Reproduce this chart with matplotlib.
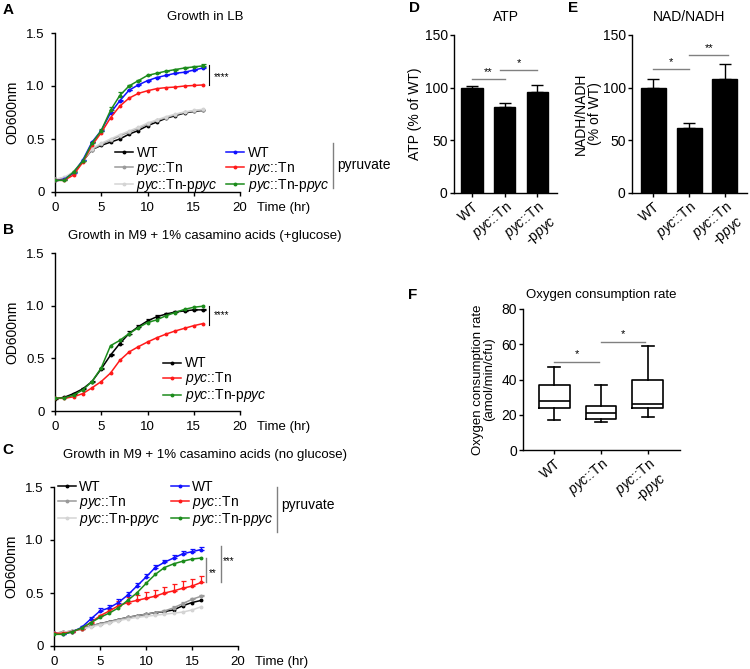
import numpy as np
import matplotlib
matplotlib.use("Agg")
import matplotlib.pyplot as plt

plt.rcParams["font.family"] = ["Liberation Sans", "DejaVu Sans"]
plt.rcParams["mathtext.fontset"] = "custom"
plt.rcParams["mathtext.rm"] = "Liberation Sans"
plt.rcParams["mathtext.it"] = "Liberation Sans:italic"
plt.rcParams["axes.linewidth"] = 1.0
plt.rcParams["xtick.major.width"] = 1.0
plt.rcParams["ytick.major.width"] = 1.0
plt.rcParams["xtick.major.size"] = 3
plt.rcParams["ytick.major.size"] = 3

BLACK = "#000000"
GRAY = "#9a9a9a"
LGRAY = "#d4d4d4"
BLUE = "#1010ff"
RED = "#ff1a1a"
GREEN = "#1c8c1c"
SIGGRAY = "#808080"

LBL_WT = "WT"
LBL_PYC = r"$\mathit{pyc}$::Tn"
LBL_COMP = r"$\mathit{pyc}$::Tn-p$\mathit{pyc}$"

# ---------------- data ----------------
hours = np.arange(0, 17)

# A: growth in LB
a_wt = [0.12, 0.13, 0.18, 0.29, 0.40, 0.44, 0.47, 0.50, 0.545, 0.58, 0.625, 0.66, 0.695, 0.72, 0.745, 0.76, 0.77]
a_pyc = [0.12, 0.13, 0.18, 0.29, 0.40, 0.45, 0.49, 0.53, 0.565, 0.60, 0.64, 0.675, 0.70, 0.73, 0.75, 0.765, 0.775]
a_comp = [0.12, 0.14, 0.19, 0.30, 0.41, 0.46, 0.50, 0.54, 0.575, 0.61, 0.65, 0.68, 0.71, 0.735, 0.755, 0.77, 0.78]
a_wt_pyr = [0.11, 0.12, 0.18, 0.30, 0.47, 0.58, 0.745, 0.86, 0.96, 1.01, 1.05, 1.08, 1.10, 1.12, 1.13, 1.15, 1.17]
a_pyc_pyr = [0.11, 0.11, 0.16, 0.28, 0.44, 0.56, 0.70, 0.81, 0.885, 0.93, 0.955, 0.975, 0.985, 0.99, 1.0, 1.005, 1.01]
a_comp_pyr = [0.11, 0.11, 0.19, 0.29, 0.46, 0.58, 0.77, 0.91, 1.0, 1.05, 1.10, 1.12, 1.14, 1.155, 1.17, 1.18, 1.19]
a_comp_pyr_err = [0.005, 0.005, 0.005, 0.005, 0.01, 0.01, 0.03, 0.03, 0.01, 0.01, 0.005, 0.005, 0.005, 0.005, 0.005, 0.01, 0.015]
a_wt_pyr_err = [0.005] * 16 + [0.01]

# B: M9 + casamino acids (+glucose)
b_wt = [0.117, 0.13, 0.165, 0.21, 0.28, 0.40, 0.53, 0.64, 0.735, 0.80, 0.855, 0.895, 0.92, 0.94, 0.95, 0.96, 0.96]
b_pyc = [0.12, 0.12, 0.135, 0.165, 0.22, 0.28, 0.36, 0.48, 0.56, 0.61, 0.655, 0.695, 0.73, 0.76, 0.785, 0.81, 0.83]
b_comp = [0.12, 0.125, 0.15, 0.20, 0.28, 0.41, 0.62, 0.67, 0.735, 0.79, 0.84, 0.865, 0.905, 0.935, 0.965, 0.985, 0.995]
b_wt_err = [0.005, 0.005, 0.005, 0.005, 0.005, 0.01, 0.015, 0.02, 0.02, 0.02, 0.02, 0.015, 0.015, 0.01, 0.01, 0.01, 0.01]

# C: M9 + casamino acids (no glucose)
c_wt = [0.12, 0.13, 0.14, 0.16, 0.19, 0.21, 0.23, 0.25, 0.27, 0.285, 0.30, 0.315, 0.325, 0.34, 0.38, 0.41, 0.43]
c_pyc = [0.12, 0.13, 0.14, 0.16, 0.19, 0.21, 0.23, 0.25, 0.27, 0.285, 0.30, 0.315, 0.33, 0.36, 0.40, 0.44, 0.47]
c_comp = [0.12, 0.13, 0.14, 0.16, 0.18, 0.20, 0.22, 0.24, 0.255, 0.27, 0.28, 0.29, 0.30, 0.31, 0.32, 0.34, 0.37]
c_wt_pyr = [0.12, 0.11, 0.135, 0.175, 0.255, 0.33, 0.36, 0.41, 0.48, 0.565, 0.65, 0.74, 0.79, 0.83, 0.87, 0.89, 0.91]
c_pyc_pyr = [0.12, 0.12, 0.135, 0.165, 0.22, 0.285, 0.33, 0.38, 0.41, 0.43, 0.45, 0.47, 0.50, 0.52, 0.545, 0.565, 0.60]
c_comp_pyr = [0.11, 0.11, 0.135, 0.17, 0.22, 0.27, 0.31, 0.36, 0.43, 0.50, 0.59, 0.675, 0.74, 0.775, 0.80, 0.82, 0.83]
c_wt_pyr_err = [0.005, 0.005, 0.005, 0.01, 0.02, 0.03, 0.03, 0.03, 0.03, 0.03, 0.03, 0.025, 0.025, 0.025, 0.025, 0.025, 0.025]
c_pyc_pyr_err = [0.0, 0.0, 0.0, 0.005, 0.01, 0.01, 0.02, 0.04, 0.05, 0.05, 0.06, 0.06, 0.06, 0.065, 0.065, 0.065, 0.065]
c_pyc_err = [0.0] * 12 + [0.01, 0.015, 0.015, 0.015, 0.015]

# D / E: bars
strains = ["WT", "pyc::Tn", "pyc::Tn-ppyc"]
strain_ticks = ["WT", LBL_PYC, LBL_PYC + "\n" + r"-p$\mathit{pyc}$"]
atp_mean = [100, 82, 96]
atp_err = [2, 3.5, 6.5]
nad_mean = [100, 62, 108]
nad_err = [8.5, 4.5, 14.5]

# F: oxygen consumption box plot (whisker low, q1, median, q3, whisker high)
ocr_low = [17, 16, 19]
ocr_q1 = [24, 17.5, 24]
ocr_med = [28, 21, 26]
ocr_q3 = [37, 25, 40]
ocr_high = [47, 37, 59]

# ---------------- layout ----------------
W, H = 750, 669
fig = plt.figure(figsize=(W / 100, H / 100), dpi=100)
fig.patch.set_facecolor("white")


def px_axes(l, t, r, b):
    return fig.add_axes([l / W, 1 - b / H, (r - l) / W, (b - t) / H])


def style(ax, fs, pad=1.5):
    ax.spines["top"].set_visible(False)
    ax.spines["right"].set_visible(False)
    ax.tick_params(labelsize=fs, pad=pad)


def growth_axes(ax, title, title_y):
    style(ax, 9.5, pad=4.5)
    ax.set_xlim(0, 20)
    ax.set_ylim(0, 1.5)
    ax.set_xticks([0, 5, 10, 15, 20])
    ax.set_yticks([0, 0.5, 1.0, 1.5])
    ax.set_yticklabels(["0", "0.5", "1.0", "1.5"])
    l, t, r, b = ax.get_position().bounds
    ax.text((205 / W - l) / r, title_y, title, transform=ax.transAxes,
            fontsize=9.5, ha="center", va="center")
    ax.set_ylabel("OD600nm", fontsize=10)
    ax.yaxis.set_label_coords(-0.195, 0.5)
    ax.annotate("Time (hr)", xy=(1, 0), xycoords="axes fraction",
                xytext=(17, -16), textcoords="offset pixels", fontsize=9.5,
                ha="left", va="center")


def curve(ax, y, color, label, err=None, lw=1.1):
    line, = ax.plot(hours, y, color=color, lw=lw, marker="o", ms=1.8,
                    label=label, zorder=3)
    if err is not None:
        ax.errorbar(hours, y, yerr=[np.zeros(len(err)), err], fmt="none",
                    ecolor=color, elinewidth=0.9, capsize=1.8, capthick=0.9,
                    zorder=2)
    return line


def legend_at(ax, handles, anchor, ncol=2, colsp=0.6):
    ax.legend(handles=handles, ncol=ncol, loc="upper left", bbox_to_anchor=anchor,
              frameon=False, fontsize=10, handlelength=1.3, handletextpad=0.25,
              labelspacing=0.0, columnspacing=colsp, borderpad=0, borderaxespad=0)


# ---- A ----
axA = px_axes(55, 33, 240, 192)
growth_axes(axA, "Growth in LB", 1.10)
hA = [curve(axA, a_wt, BLACK, LBL_WT),
      curve(axA, a_pyc, GRAY, LBL_PYC),
      curve(axA, a_comp, LGRAY, LBL_COMP)]
hA2 = [curve(axA, a_wt_pyr, BLUE, LBL_WT, a_wt_pyr_err),
       curve(axA, a_pyc_pyr, RED, LBL_PYC),
       curve(axA, a_comp_pyr, GREEN, LBL_COMP, a_comp_pyr_err)]
legend_at(axA, hA + hA2, (0.324, 0.29))
axA.plot([16.6, 16.6], [1.005, 1.2], color=BLACK, lw=0.8, clip_on=False)
axA.text(17.2, 1.085, "****", fontsize=7, va="center", ha="left")
axA.plot([30.05, 30.05], [0.04, 0.46], color=SIGGRAY, lw=1.0, clip_on=False)
axA.text(30.5, 0.255, "pyruvate", fontsize=10, va="center", ha="left")

# ---- B ----
axB = px_axes(55, 253, 240, 411)
growth_axes(axB, "Growth in M9 + 1% casamino acids (+glucose)", 1.107)
hB = [curve(axB, b_wt, BLACK, LBL_WT, b_wt_err),
      curve(axB, b_pyc, RED, LBL_PYC),
      curve(axB, b_comp, GREEN, LBL_COMP)]
legend_at(axB, hB, (0.584, 0.345), ncol=1)
axB.plot([16.6, 16.6], [0.815, 1.0], color=BLACK, lw=0.8, clip_on=False)
axB.text(17.2, 0.91, "****", fontsize=7, va="center", ha="left")

# ---- C ----
axC = px_axes(54, 487, 238, 646)
growth_axes(axC, "Growth in M9 + 1% casamino acids (no glucose)", 1.20)
hC = [curve(axC, c_wt, BLACK, LBL_WT),
      curve(axC, c_pyc, GRAY, LBL_PYC, c_pyc_err),
      curve(axC, c_comp, LGRAY, LBL_COMP)]
hC2 = [curve(axC, c_wt_pyr, BLUE, LBL_WT, c_wt_pyr_err),
       curve(axC, c_pyc_pyr, RED, LBL_PYC, c_pyc_pyr_err),
       curve(axC, c_comp_pyr, GREEN, LBL_COMP)]
legend_at(axC, hC + hC2, (0.02, 1.045), colsp=0.7)
axC.plot([16.5, 16.5], [0.6, 0.83], color=SIGGRAY, lw=1.0, clip_on=False)
axC.text(16.85, 0.69, "**", fontsize=7, va="center", ha="left")
axC.plot([18.1, 18.1], [0.6, 0.94], color=SIGGRAY, lw=1.0, clip_on=False)
axC.text(18.35, 0.80, "***", fontsize=7, va="center", ha="left")
axC.plot([24.2, 24.2], [1.08, 1.50], color=SIGGRAY, lw=1.0, clip_on=False)
axC.text(24.7, 1.33, "pyruvate", fontsize=10, va="center", ha="left")


# ---- D / E bars ----
def bar_axes(ax, means, errs, title, xlim, width):
    style(ax, 10)
    pos = np.arange(len(means))
    ax.bar(pos, means, width=width, color=BLACK, edgecolor=BLACK, zorder=2)
    ax.errorbar(pos, means, yerr=[np.zeros(len(errs)), errs], fmt="none",
                ecolor=BLACK, elinewidth=1.0, capsize=4, capthick=1.0, zorder=1)
    ax.set_xlim(*xlim)
    ax.set_ylim(0, 150)
    ax.set_yticks([0, 50, 100, 150])
    ax.set_xticks(pos)
    ax.set_xticklabels(strain_ticks, rotation=40, ha="right",
                       rotation_mode="anchor", fontsize=10)
    ax.set_title(title, fontsize=10, pad=10)


def sig(ax, x0, x1, y, label, dy):
    ax.plot([x0, x1], [y, y], color=SIGGRAY, lw=1.0, clip_on=False)
    ax.text((x0 + x1) / 2, y + dy, label, ha="center", va="bottom", fontsize=8)


axD = px_axes(454, 35, 557, 193)
bar_axes(axD, atp_mean, atp_err, "ATP", (-0.55, 2.6), 0.66)
axD.set_ylabel("ATP (% of WT)", fontsize=10, labelpad=2)
sig(axD, 0.0, 1.0, 108, "**", 2)
sig(axD, 0.85, 2.0, 117, "*", 2)

axE = px_axes(632, 35, 747, 193)
bar_axes(axE, nad_mean, nad_err, "NAD/NADH", (-0.6, 2.62), 0.7)
axE.set_ylabel("NADH/NADH\n(% of WT)", fontsize=10, linespacing=1.0)
axE.yaxis.set_label_coords(-0.26, 0.5)
sig(axE, 0.0, 1.0, 118, "*", 2)
sig(axE, 1.0, 2.1, 131, "**", 2)

# ---- F box plot ----
axF = px_axes(523, 309, 680, 450)
style(axF, 10)
stats = [dict(whislo=ocr_low[i], q1=ocr_q1[i], med=ocr_med[i], q3=ocr_q3[i],
              whishi=ocr_high[i], fliers=[]) for i in range(3)]
lp = dict(color=BLACK, lw=1.2)
axF.bxp(stats, positions=[0, 1, 2], widths=0.66, capwidths=0.25,
        showfliers=False, boxprops=lp, whiskerprops=lp, capprops=lp,
        medianprops=dict(color=BLACK, lw=1.2))
axF.set_xlim(-0.67, 2.69)
axF.set_ylim(0, 80)
axF.set_yticks([0, 20, 40, 60, 80])
axF.set_xticks([0, 1, 2])
axF.set_xticklabels(strain_ticks, rotation=40, ha="right",
                    rotation_mode="anchor", fontsize=10)
axF.set_ylabel("Oxygen consumption rate\n(amol/min/cfu)", fontsize=9.5,
               linespacing=1.0, labelpad=4)
axF.set_title("Oxygen consumption rate", fontsize=9.5, pad=8)
sig(axF, 0.0, 0.95, 50, "*", 1.5)
sig(axF, 1.0, 1.95, 61.5, "*", 1.5)

# panel letters
for lab, x, y in [("A", 8, 10), ("B", 8, 230), ("C", 8, 450), ("D", 414, 8),
                  ("E", 573, 8), ("F", 413, 295)]:
    fig.text(x / W, 1 - y / H, lab, fontsize=11, fontweight="bold",
             ha="center", va="center")

fig.savefig("out.png", dpi=100)
